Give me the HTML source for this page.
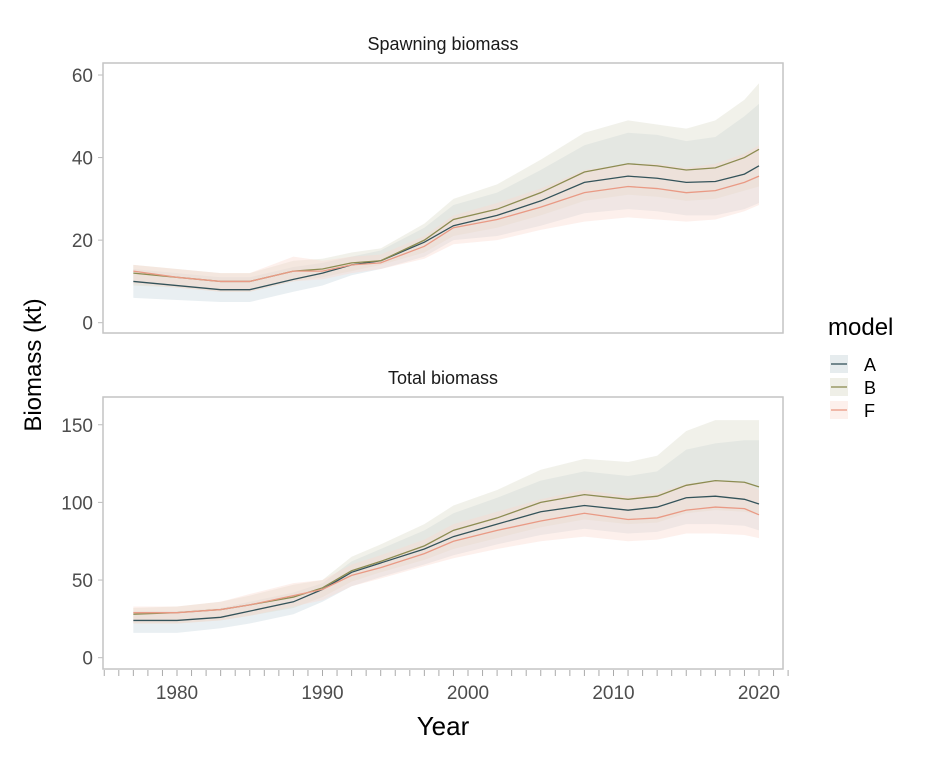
<!DOCTYPE html>
<html><head><meta charset="utf-8"><style>
body{margin:0;background:#fff;}
svg text{font-family:"Liberation Sans",Arial,sans-serif;}
</style></head><body>
<svg id="c" width="940" height="756" xmlns="http://www.w3.org/2000/svg"></svg>
<script>
const years=[1977,1980,1983,1985,1988,1990,1992,1994,1997,1999,2002,2005,2008,2011,2013,2015,2017,2019,2020];
const models=['A','B','F'];
// Spawning biomass
const spA=[10,9,8,8,10.5,12,14,15,19.5,23.5,26,29.5,34,35.5,35,34,34.2,36,38];
const spAlo=[6,5.5,5,5,7.5,9,11.5,13,16,20,21,23.5,26.5,27.5,27,26,26,27.5,29];
const spAhi=[13,12,11,11,13.5,14.5,16,17.5,23,28.5,31.5,37,43,46,45.5,44,45,50,53];
const spB=[12,11,10,10,12.5,13,14.5,15,20,25,27.5,31.5,36.5,38.5,38,37,37.5,40,42];
const spBlo=[9,8.5,7.5,7.5,10,11,12.5,14,17,21,23,26,29.5,31,30.5,29.5,30,32,33];
const spBhi=[14,13,12,12,15,15.5,17,18,24,30,33.5,39.5,46,49,48,47,49,54,58];
const spF=[12.5,11,10,10,12.5,12.5,14,14.5,18.5,23,25,28,31.5,33,32.5,31.5,32,34,35.5];
const spFlo=[9.5,8.5,7.5,7.5,10,10.5,12,13,15.5,19,20,22.5,24.5,25.5,25,24.5,25,27,28.5];
const spFhi=[14,13,12,12,16,15,16,16.5,21,26,29,32.5,37,38.5,38.5,37.5,38.5,41,43];
// Total biomass
const tbA=[24,24,26,30,36,44,55,61,70,78,86,94,98,95,97,103,104,102,99];
const tbAlo=[16,16,19,22,28,36,46,52,60,66,73,79,83,80,81,86,86,85,82];
const tbAhi=[30,30,32,36,42,48,62,70,82,93,103,114,120,117,120,134,138,140,140];
const tbB=[28,29,31,34,39,45,56,62,72,82,90,100,105,102,104,111,114,113,110];
const tbBlo=[22,22,24,27,32,39,49,55,63,70,77,84,89,86,87,93,95,94,92];
const tbBhi=[32,33,36,40,47,50,65,73,86,98,108,121,128,126,130,146,153,153,153];
const tbF=[29,29,31,34,40,44,53,58,67,75,82,88,93,89,90,95,97,96,92];
const tbFlo=[22,22,24,27,33,37,46,51,59,64,70,75,78,75,76,80,80,79,77];
const tbFhi=[33,33,36,41,48,50,60,66,76,86,94,102,108,104,106,112,114,113,108];
const spTicks=[0,20,40,60];
const tbTicks=[0,50,100,150];
const xTicks=[1980,1990,2000,2010,2020];

const NS='http://www.w3.org/2000/svg';
const svg=document.getElementById('c');
function el(tag,attrs,parent){const e=document.createElementNS(NS,tag);for(const k in attrs)e.setAttribute(k,attrs[k]);(parent||svg).appendChild(e);return e;}
const X=yr=>177+(yr-1980)*14.55;
const L=103,R=783;
const lineCol={A:'#34535a',B:'#8c8c52',F:'#e99a85'};
const bandCol={A:'#c9d8de',B:'#dcdccb',F:'#fbd9cf'};

function panel(name,title,top,bottom,y0,pxPer,ticks,data){
  const Y=v=>y0-v*pxPer;
  const g=el('g',{});
  
  
  const t=el('text',{x:(L+R)/2,y:top-13,'text-anchor':'middle','font-size':'18',fill:'#1a1a1a'},g);
  t.textContent=title;
  
  
  ticks.forEach(v=>{
    const tk=el('line',{x1:L-5,x2:L,y1:Y(v),y2:Y(v),stroke:'#bbb','stroke-width':1},g);
    
    
    const lb=el('text',{x:L-10,y:Y(v)+7,'text-anchor':'end','font-size':'19',fill:'#4d4d4d'},g);
    lb.textContent=v;
    
    
  });
  models.forEach(m=>{
    const lo=data[m][1],hi=data[m][2];
    let d='M'+years.map((yr,i)=>X(yr)+','+Y(hi[i])).join('L');
    for(let i=years.length-1;i>=0;i--)d+='L'+X(years[i])+','+Y(lo[i]);
    const p=el('path',{d:d+'Z',fill:bandCol[m],'fill-opacity':0.4},g);
    
    
  });
  models.forEach(m=>{
    const v=data[m][0];
    const pl=el('polyline',{points:years.map((yr,i)=>X(yr)+','+Y(v[i])).join(' '),fill:'none',stroke:lineCol[m],'stroke-width':1.3},g);
    
    
  });
  const b=el('rect',{x:L,y:top,width:R-L,height:bottom-top,fill:'none',stroke:'#c4c4c4','stroke-width':1.5},g);
  
  
}
panel('spawning','Spawning biomass',63,333,322.7,4.128,spTicks,{A:[spA,spAlo,spAhi],B:[spB,spBlo,spBhi],F:[spF,spFlo,spFhi]});
panel('total','Total biomass',397,669,657.7,1.553,tbTicks,{A:[tbA,tbAlo,tbAhi],B:[tbB,tbBlo,tbBhi],F:[tbF,tbFlo,tbFhi]});

for(let yr=1975;yr<=2022;yr++){
  const tk=el('line',{x1:X(yr),x2:X(yr),y1:670,y2:676,stroke:'#aaa','stroke-width':1});
  
  
}
xTicks.forEach(yr=>{
  const t=el('text',{x:X(yr),y:699,'text-anchor':'middle','font-size':'19',fill:'#4d4d4d'});
  t.textContent=yr;
  
  
});
</script>
<svg width="940" height="756" style="position:absolute;left:0;top:0" xmlns="http://www.w3.org/2000/svg">
<text x="443" y="735" text-anchor="middle" font-size="26" fill="#000">Year</text>
<text transform="translate(41,365) rotate(-90)" text-anchor="middle" font-size="24" fill="#000">Biomass (kt)</text>
<g>
<text x="828" y="335" font-size="24" fill="#000">model</text>
<g><rect x="830" y="355" width="18" height="18" fill="#e6ecee"/><line x1="831" x2="847" y1="364" y2="364" stroke="#34535a" stroke-width="1.3"/><text x="864" y="371" font-size="18">A</text></g>
<g><rect x="830" y="378" width="18" height="18" fill="#efefe7"/><line x1="831" x2="847" y1="387" y2="387" stroke="#8c8c52" stroke-width="1.3"/><text x="864" y="394" font-size="18">B</text></g>
<g><rect x="830" y="401" width="18" height="18" fill="#fdf0ec"/><line x1="831" x2="847" y1="410" y2="410" stroke="#e99a85" stroke-width="1.3"/><text x="864" y="417" font-size="18">F</text></g>
</g>
</svg>
</body></html>
